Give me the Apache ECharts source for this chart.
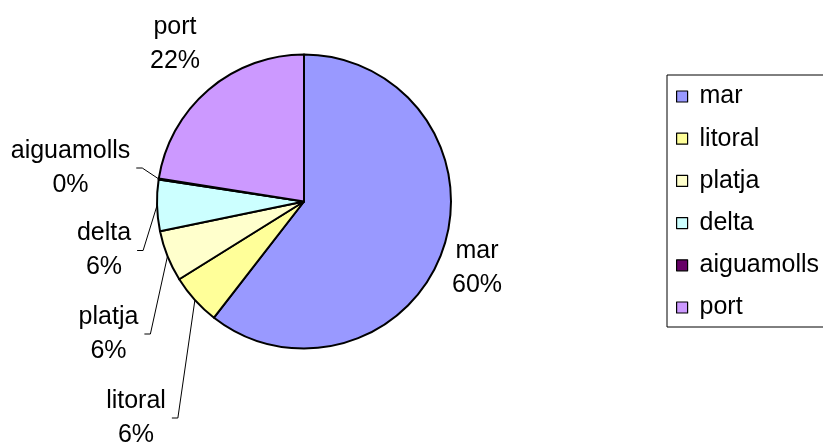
<!DOCTYPE html>
<html>
<head>
<meta charset="utf-8">
<script src="https://cdn.jsdelivr.net/npm/echarts@6/dist/echarts.min.js"></script>
<style>
  html, body { margin: 0; padding: 0; background: #fff; }
  #chart { width: 823px; height: 443px; }
</style>
</head>
<body>
<div id="chart"></div>
<script>
// slice names and shares (%), clockwise from 12 o'clock
var names = ['mar', 'litoral', 'platja', 'delta', 'aiguamolls', 'port'];
var shares = [60.49, 5.64, 5.63, 5.63, 0.12, 22.49];
var colors = ['#9999FF', '#FFFF99', '#FFFFCC', '#CCFFFF', '#660066', '#CC99FF'];

// where each label block sits (center), and whether it gets a leader line
var labelPos = [[477, 268], [136, 418], [108.5, 334], [104, 250.5], [70.5, 168], [175, 44]];
var hasLeader = [false, true, true, true, true, false];

var chart = echarts.init(document.getElementById('chart'));
var font = '"Liberation Sans", Arial, sans-serif';

var pieData = names.map(function (n, i) {
    return {
        name: n,
        value: shares[i],
        itemStyle: { color: colors[i] },
        labelLine: { show: hasLeader[i] }
    };
});

var option = {
    backgroundColor: '#fff',
    animation: false,
    legend: {
        orient: 'vertical',
        left: 667,
        top: 75,
        padding: [9, 10, 7, 9],
        itemWidth: 11,
        itemHeight: 11,
        itemGap: 17.2,
        borderColor: '#000',
        borderWidth: 1,
        icon: 'rect',
        itemStyle: { borderColor: '#000', borderWidth: 1.2 },
        formatter: function (name) { return ' ' + name; },
        textStyle: { fontFamily: font, fontSize: 25, lineHeight: 25, color: '#000' },
        data: names
    },
    series: [{
        type: 'pie',
        center: [304, 201.5],
        radius: 147,
        startAngle: 90,
        clockwise: true,
        avoidLabelOverlap: false,
        itemStyle: { borderColor: '#000', borderWidth: 2 },
        emphasis: { disabled: true },
        label: {
            show: true,
            position: 'outside',
            fontFamily: font,
            fontSize: 25,
            lineHeight: 34,
            color: '#000',
            formatter: function (p) {
                return p.name + '\n' + Math.round(p.percent) + '%';
            }
        },
        labelLine: {
            length: 10,
            length2: 10,
            lineStyle: { color: '#000', width: 1 }
        },
        labelLayout: function (params) {
            var pos = labelPos[params.dataIndex];
            var out = { x: pos[0], y: pos[1], align: 'center', verticalAlign: 'middle' };
            var pts = params.labelLinePoints;
            if (hasLeader[params.dataIndex] && pts) {
                var endX = pos[0] + params.labelRect.width / 2 + 6;
                out.labelLinePoints = [pts[0], [endX + 6, pos[1]], [endX, pos[1]]];
            }
            return out;
        },
        data: pieData
    }]
};

option && chart.setOption(option);
window.addEventListener('resize', chart.resize);
</script>
</body>
</html>
